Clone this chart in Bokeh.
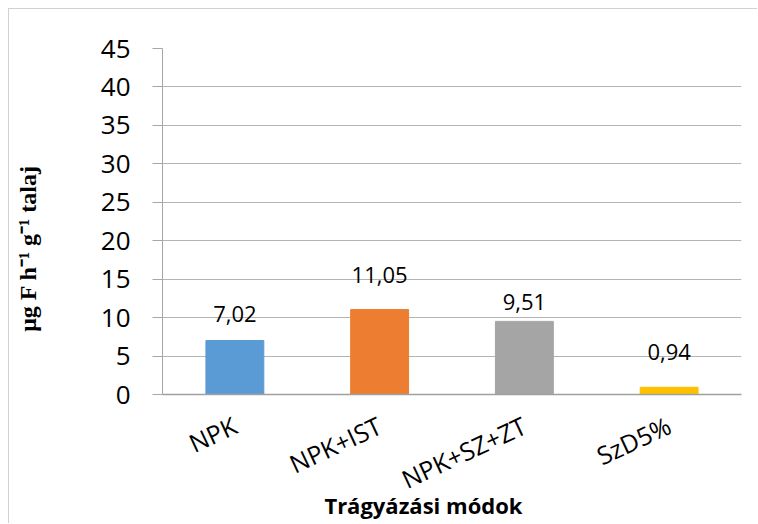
import math
from bokeh.plotting import figure
from bokeh.models import ColumnDataSource, FactorRange, Range1d, FixedTicker
from bokeh.core.properties import value
from bokeh.embed import file_html
from bokeh.resources import INLINE

# ---- data ----
categories = ["NPK", "NPK+IST", "NPK+SZ+ZT", "SzD5%"]
values = [7.02, 11.05, 9.51, 0.94]
bar_colors = ["#5B9BD5", "#ED7D31", "#A5A5A5", "#FFC000"]
y_ticks = [0, 5, 10, 15, 20, 25, 30, 35, 40, 45]
x_title = "Trágyázási módok"
y_title = "μg F h⁻¹ g⁻¹ talaj"

# ---- styling ----
label_gap_px = [-27, -35, -19, -35]   # data-label gaps above bars (screen px)
NBSP = "\u00a0"                        # trailing padding shifts the centred titles

labels = [f"{v:.2f}".replace(".", ",") for v in values]
src = ColumnDataSource(dict(cat=categories, val=values, color=bar_colors,
                            label=labels, gap=label_gap_px))

p = figure(x_range=FactorRange(*categories), y_range=Range1d(0, 45),
           frame_width=579, frame_height=346, output_backend="svg",
           toolbar_location=None, title=None,
           min_border_left=153, min_border_right=16,
           min_border_top=39, min_border_bottom=129)
p.styles = {"margin-left": "8px", "margin-top": "8px",
            "border-left": "1px solid #d0d0d0", "border-top": "1px solid #d0d0d0"}
p.outline_line_color = None
p.background_fill_color = "white"
p.border_fill_color = "white"

p.vbar(x="cat", top="val", width=0.4, color="color", source=src)
p.text(x="cat", y="val", text="label", y_offset="gap", source=src,
       text_align="center", text_baseline="alphabetic",
       text_font=value("Open Sans"), text_font_size="22px", text_color="black")

# grid
p.xgrid.grid_line_color = None
p.ygrid.grid_line_color = "#b4b4b4"
p.ygrid.grid_line_width = 1
p.ygrid.ticker = FixedTicker(ticks=y_ticks)

# y axis
ya = p.yaxis[0]
ya.ticker = FixedTicker(ticks=y_ticks)
ya.axis_line_color = "#a6a6a6"
ya.major_tick_line_color = "#a6a6a6"
ya.major_tick_out = 10
ya.major_tick_in = 0
ya.minor_tick_line_color = None
ya.major_label_standoff = 22
ya.major_label_text_font = "Open Sans"
ya.major_label_text_font_size = "26px"
ya.major_label_text_color = "black"
ya.axis_label = y_title + NBSP * 9
ya.axis_label_text_font = "Liberation Serif"
ya.axis_label_text_font_style = "bold"
ya.axis_label_text_font_size = "24px"
ya.axis_label_text_color = "black"
ya.axis_label_standoff = 57

# x axis
xa = p.xaxis[0]
xa.axis_line_color = "#a0a0a0"
xa.axis_line_width = 1.5
xa.major_tick_line_color = None
xa.major_tick_out = 0
xa.major_tick_in = 0
xa.major_label_orientation = math.radians(25)
xa.major_label_standoff = 29
xa.major_label_text_font = "Open Sans"
xa.major_label_text_font_size = "25px"
xa.major_label_text_color = "black"
xa.axis_label = x_title + NBSP * 10
xa.axis_label_text_font = "Open Sans"
xa.axis_label_text_font_style = "bold"
xa.axis_label_text_font_size = "22px"
xa.axis_label_text_color = "black"
xa.axis_label_standoff = -24

open("out.html", "w").write(file_html(p, INLINE))
